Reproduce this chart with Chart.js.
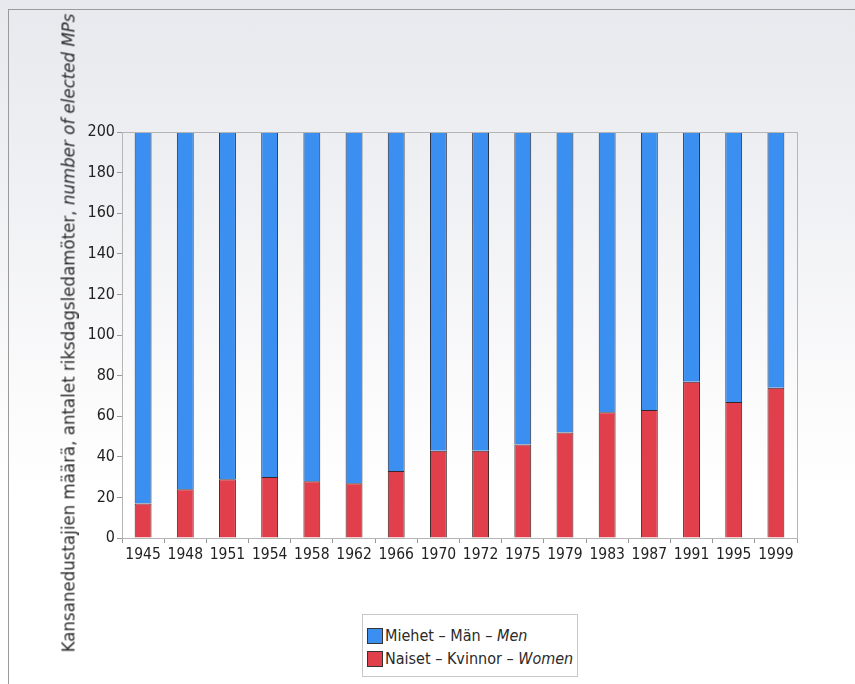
<!DOCTYPE html>
<html>
<head>
<meta charset="utf-8">
<script src="https://cdn.jsdelivr.net/npm/chart.js@4"></script>
<style>
  html, body { margin: 0; padding: 0; }
  body {
    width: 855px; height: 684px; position: relative; overflow: hidden;
    background: linear-gradient(to bottom, #e8e9ee 0px, #eff0f3 180px, #fafafb 380px, #ffffff 500px);
    font-family: 'DejaVu Sans Condensed', 'Roboto', sans-serif;
  }
  #frame {
    position: absolute; left: 8px; top: 9px; width: 860px; height: 690px;
    border-left: 1px solid #9a9a9a; border-top: 1px solid #9a9a9a;
  }
  #chartBox { position: absolute; left: 0; top: 0; width: 855px; height: 684px; }
  #yTitle {
    position: absolute; left: 68px; top: 333px;
    transform: translate(-50%, -50%) rotate(-90deg);
    white-space: nowrap; font-size: 18.5px; color: #2a2a2a;
  }
  #legend {
    position: absolute; left: 362px; top: 614px; width: 216px; height: 63px;
    border: 1px solid #c8c8c8; background: #fff; box-sizing: border-box;
    padding: 9px 0 0 4px; font-size: 16px; color: #2a2a2a; line-height: 23px;
    white-space: nowrap;
  }
  .sw { display: inline-block; width: 16px; height: 16px; vertical-align: -3px;
        border: 1px solid #333; box-sizing: border-box; margin-right: 2px; }
</style>
</head>
<body>
<div id="frame"></div>
<div id="chartBox"><canvas id="chart"></canvas></div>
<div id="yTitle">Kansanedustajien määrä, antalet riksdagsledamöter, <i>number of elected MPs</i></div>
<div id="legend">
  <div><span class="sw" style="background:#3b8ff0"></span>Miehet – Män – <i>Men</i></div>
  <div><span class="sw" style="background:#e23f4c"></span>Naiset – Kvinnor – <i>Women</i></div>
</div>
<script>
// vaalivuodet ja naisten lukumäärä (kaikkiaan 200 paikkaa)
const years = ['1945', '1948', '1951', '1954', '1958', '1962', '1966', '1970',
               '1972', '1975', '1979', '1983', '1987', '1991', '1995', '1999'];
const women = [17, 24, 29, 30, 28, 27, 33, 43, 43, 46, 52, 62, 63, 77, 67, 74];
const men = [183, 176, 171, 170, 172, 173, 167, 157, 157, 154, 148, 138, 137, 123, 133, 126];
const yTicks = [0, 20, 40, 60, 80, 100, 120, 140, 160, 180, 200];

const fontFamily = "'DejaVu Sans Condensed', sans-serif";

// reunaviiva piirtoalueen ympärille
const frameBox = {
  id: 'frameBox',
  afterDraw(chart) {
    const a = chart.chartArea;
    const ctx = chart.ctx;
    ctx.save();
    ctx.strokeStyle = '#b5b5b5';
    ctx.lineWidth = 1;
    ctx.strokeRect(a.left + 0.5, a.top + 0.5, a.right - a.left, a.bottom - a.top);
    ctx.restore();
  }
};

const ctx = document.getElementById('chart').getContext('2d');
new Chart(ctx, {
  type: 'bar',
  data: {
    labels: years,
    datasets: [
      {
        label: 'Naiset – Kvinnor – Women',
        data: women,
        backgroundColor: '#e23f4c',
        borderColor: '#3a2626',
        borderWidth: 1,
        categoryPercentage: 0.4,
        barPercentage: 1.0
      },
      {
        label: 'Miehet – Män – Men',
        data: men,
        backgroundColor: '#3b8ff0',
        borderColor: '#262b3a',
        borderWidth: 1,
        categoryPercentage: 0.4,
        barPercentage: 1.0
      }
    ]
  },
  options: {
    responsive: true,
    maintainAspectRatio: false,
    animation: false,
    layout: { padding: { left: 0, top: 132, right: 58, bottom: 116 } },
    plugins: {
      legend: { display: false },
      tooltip: { enabled: false }
    },
    scales: {
      x: {
        stacked: true,
        afterFit(s) { s.height = 30; },
        grid: { offset: true, drawOnChartArea: false, tickLength: 5, color: '#999' },
        border: { color: '#999' },
        ticks: { color: '#222', font: { family: fontFamily, size: 15.5 }, padding: 3, maxRotation: 0 }
      },
      y: {
        stacked: true,
        min: 0,
        max: 200,
        afterFit(s) { s.width = 122; },
        afterBuildTicks(s) { s.ticks = yTicks.map(v => ({ value: v })); },
        grid: { drawOnChartArea: false, tickLength: 5, color: '#999' },
        border: { color: '#999' },
        ticks: { color: '#222', font: { family: fontFamily, size: 16 }, padding: 2 }
      }
    }
  },
  plugins: [frameBox]
});
</script>
</body>
</html>
